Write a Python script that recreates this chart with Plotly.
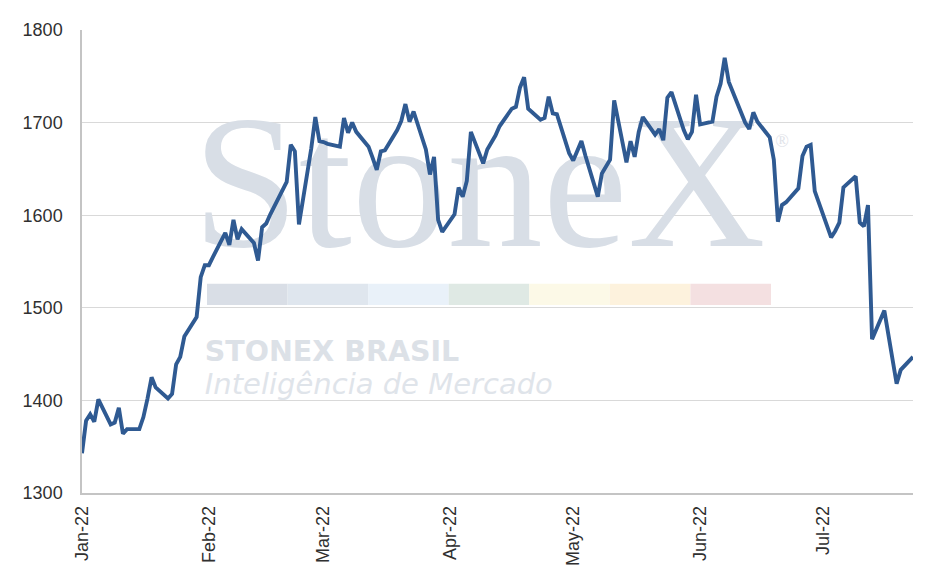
import pandas as pd
import plotly.graph_objects as go

# trading days Jan 3 - Jul 25 2022
dates = pd.bdate_range("2022-01-03", "2022-07-25")

jan = [1343, 1378, 1385, 1377, 1401, 1374, 1376, 1392, 1364, 1369, 1369,
       1382, 1402, 1425, 1414, 1402, 1407, 1439, 1447, 1469, 1490]
feb = [1533, 1546, 1546, 1555, 1581, 1568, 1595, 1574, 1585, 1570, 1551,
       1587, 1591, 1601, 1627, 1636, 1676, 1669, 1590, 1672]
mar = [1706, 1680, 1679, 1677, 1674, 1705, 1689, 1700, 1690, 1674, 1662,
       1649, 1669, 1670, 1692, 1702, 1720, 1701, 1712, 1671, 1644, 1663, 1595]
apr = [1582, 1601, 1630, 1620, 1637, 1690, 1656, 1671, 1678, 1686, 1696,
       1715, 1717, 1738, 1749, 1715, 1703, 1705, 1728, 1710, 1709]
may = [1667, 1659, 1670, 1680, 1664, 1620, 1645, 1652, 1660, 1724, 1657,
       1680, 1663, 1690, 1706, 1687, 1693, 1681, 1727, 1733, 1692, 1682]
jun = [1690, 1730, 1698, 1701, 1728, 1742, 1770, 1744, 1712, 1700, 1693,
       1711, 1701, 1684, 1660, 1593, 1611, 1614, 1629, 1664, 1674, 1676]
jul = [1626, 1588, 1576, 1583, 1592, 1630, 1642, 1592, 1588, 1611, 1466,
       1497, 1472, 1443, 1418, 1433, 1447]

prices = jan + feb + mar + apr + may + jun + jul

tick_vals = ["2022-01-03", "2022-02-03", "2022-03-03", "2022-04-03",
             "2022-05-03", "2022-06-03", "2022-07-03"]
tick_text = ["Jan-22", "Feb-22", "Mar-22", "Apr-22", "May-22", "Jun-22", "Jul-22"]

bar_colors = ["#d9dee6", "#dfe6ee", "#e9f1f9", "#dfe9e4",
              "#fcf9e7", "#fdf2dd", "#f4e0e1"]

fig = go.Figure()

# watermark (drawn as traces so it sits under the line)
fig.add_trace(go.Scatter(
    x=["2022-04-10"], y=[1618], mode="text", text=["StoneX"],
    textposition="middle center",
    textfont=dict(family="Liberation Serif", size=191, color="#d8dee6"),
    hoverinfo="skip", showlegend=False))
fig.add_trace(go.Scatter(
    x=["2022-06-23"], y=[1678], mode="text", text=["®"],
    textposition="middle center",
    textfont=dict(family="Liberation Serif", size=18, color="#dfe3e9"),
    hoverinfo="skip", showlegend=False))
fig.add_trace(go.Scatter(
    x=["2022-02-02"], y=[1450], mode="text", text=["STONEX BRASIL"],
    textposition="middle right",
    textfont=dict(family="DejaVu Sans", size=28.5, color="#dce1e7", weight="bold"),
    hoverinfo="skip", showlegend=False))
fig.add_trace(go.Scatter(
    x=["2022-02-02"], y=[1415], mode="text", text=["Inteligência de Mercado"],
    textposition="middle right",
    textfont=dict(family="DejaVu Sans", size=29, color="#dfe4ea",
                  style="italic", weight=200),
    hoverinfo="skip", showlegend=False))

fig.add_trace(go.Scatter(
    x=dates, y=prices, mode="lines",
    line=dict(color="#2f5a92", width=3.9),
    showlegend=False))

# coloured strip of the watermark
x0, x1 = 0.1504, 0.8291
w = (x1 - x0) / len(bar_colors)
for i, c in enumerate(bar_colors):
    fig.add_shape(type="rect", xref="paper", yref="y",
                  x0=x0 + i * w, x1=x0 + (i + 1) * w, y0=1503, y1=1526,
                  fillcolor=c, line_width=0, layer="below")

fig.update_layout(
    width=932, height=580,
    margin=dict(l=74, r=27, t=20, b=95),
    paper_bgcolor="white", plot_bgcolor="white",
    font=dict(family="Liberation Sans", size=18, color="#303030"),
    xaxis=dict(
        range=["2022-01-03", "2022-07-25"],
        tickvals=tick_vals, ticktext=tick_text, tickangle=-90,
        showgrid=False, showline=True, linecolor="#c4c4c4", linewidth=1.5,
        ticks="", ticklabelstandoff=4, zeroline=False),
    yaxis=dict(
        range=[1300, 1800], dtick=100,
        showgrid=True, gridcolor="#d9d9d9", gridwidth=1.4,
        showline=True, linecolor="#c4c4c4", linewidth=1.5,
        ticks="", ticklabelstandoff=14, zeroline=False),
)

fig.write_html("out.html")
